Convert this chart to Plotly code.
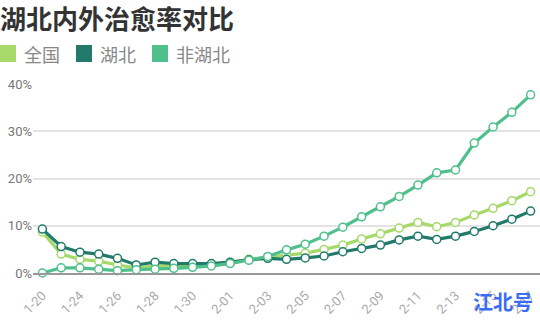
import plotly.graph_objects as go

dates = ['1-20', '1-22', '1-24', '1-25', '1-26', '1-27', '1-28', '1-29', '1-30', '1-31',
         '2-01', '2-02', '2-03', '2-04', '2-05', '2-06', '2-07', '2-08', '2-09', '2-10',
         '2-11', '2-12', '2-13', '2-14', '2-15', '2-16', '2-17']
national = [8.7, 4.0, 2.9, 2.5, 1.7, 1.1, 1.5, 1.5, 1.6, 1.8, 2.2, 2.9, 3.3, 3.8, 4.2, 5.0,
            5.9, 7.2, 8.3, 9.5, 10.7, 9.8, 10.7, 12.3, 13.7, 15.3, 17.2]
hubei = [9.3, 5.6, 4.4, 4.0, 3.1, 1.7, 2.3, 2.0, 2.0, 2.0, 2.3, 2.8, 3.1, 2.9, 3.2, 3.6,
         4.5, 5.2, 5.9, 7.0, 7.8, 7.1, 7.8, 8.8, 10.0, 11.4, 13.1]
non_hubei = [0.0, 1.1, 1.1, 0.8, 0.5, 0.7, 0.8, 1.0, 1.2, 1.5, 2.0, 2.7, 3.5, 4.9, 6.1, 7.8,
             9.7, 11.9, 14.0, 16.2, 18.6, 21.2, 21.8, 27.5, 30.9, 34.0, 37.7]
series_names = ['全国', '湖北', '非湖北']
colors = ['#a6d96a', '#227a6b', '#4fbf8c']
tick_labels = dates[::2]
title = '湖北内外治愈率对比'
watermark = '江北号'

W, H = 540, 320
ML, MR, MT, MB = 33, 0, 84, 47
PW, PH = W - ML - MR, H - MT - MB


def px_x(px):
    return (px - ML) / PW


def px_y(py):
    return (H - MB - py) / PH


fig = go.Figure()
for name, vals, c in zip(series_names, [national, hubei, non_hubei], colors):
    fig.add_trace(go.Scatter(
        x=dates, y=vals, mode='lines+markers', name=name, showlegend=False,
        line=dict(color=c, width=3.2),
        marker=dict(size=8, color='white', line=dict(color=c, width=1.5)),
        cliponaxis=False,
    ))

shapes = []
annotations = []
leg_sq_x = [0, 76, 152]
for i, (name, c) in enumerate(zip(series_names, colors)):
    x0 = leg_sq_x[i]
    shapes.append(dict(type='rect', xref='paper', yref='paper',
                       x0=px_x(x0), x1=px_x(x0 + 16), y0=px_y(62), y1=px_y(45),
                       fillcolor=c, line=dict(width=0), layer='above'))
    annotations.append(dict(text=name, xref='paper', yref='paper', x=px_x(x0 + 22),
                            y=px_y(53.5), xanchor='left', yanchor='middle', showarrow=False,
                            font=dict(size=18, color='#888', family='Noto Sans CJK SC')))
annotations.append(dict(text='<b>' + watermark + '</b>', xref='paper', yref='paper',
                        x=px_x(471), y=px_y(301), xanchor='left', yanchor='middle',
                        showarrow=False,
                        font=dict(size=20, color='#3b6cf6', family='Noto Sans CJK SC')))

fig.update_layout(
    width=W, height=H,
    margin=dict(l=ML, r=MR, t=MT, b=MB),
    paper_bgcolor='white', plot_bgcolor='white',
    showlegend=False,
    font=dict(family='Roboto, Noto Sans CJK SC', color='#888'),
    title=dict(text='<b>' + title + '</b>', x=0, xref='container', xanchor='left',
               y=1 - 20 / H, yref='container', yanchor='middle', pad=dict(t=0, l=0),
               font=dict(size=26, color='#333', family='Noto Sans CJK SC')),
    xaxis=dict(type='category', range=[-0.5, 26.5], tickvals=tick_labels, ticktext=tick_labels,
               tickangle=-45, showgrid=False, showline=True, linecolor='#999', linewidth=2,
               ticks='', ticklabelstandoff=8, tickfont=dict(size=13, color='#aaa')),
    yaxis=dict(range=[0, 40], dtick=10, ticksuffix='%', showgrid=True, gridcolor='#e3e3e3',
               gridwidth=1.5, zeroline=False, ticks='', tickfont=dict(size=13, color='#777')),
    shapes=shapes,
    annotations=annotations,
)

fig.write_html('out.html')
